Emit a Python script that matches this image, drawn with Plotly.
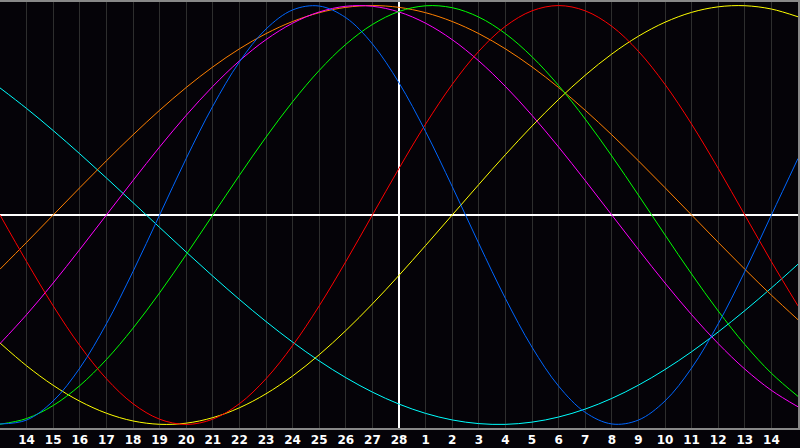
import plotly.graph_objects as go

# Day offsets relative to "today" (day 28)
days = list(range(-15, 16))
tick_days = list(range(-14, 15))
tick_labels = ["14", "15", "16", "17", "18", "19", "20", "21", "22", "23", "24", "25", "26", "27",
               "28", "1", "2", "3", "4", "5", "6", "7", "8", "9", "10", "11", "12", "13", "14"]

# Cycle values, one per day from -15 to +15
blue_vals = [-0.9977, -0.9791, -0.8879, -0.7308, -0.5196, -0.2698, 0.0, 0.2698, 0.5196, 0.7308,
             0.8879, 0.9791, 0.9977, 0.9423, 0.8170, 0.6310, 0.3984, 0.1362, -0.1362, -0.3984,
             -0.6310, -0.8170, -0.9423, -0.9977, -0.9791, -0.8879, -0.7308, -0.5196, -0.2698, 0.0,
             0.2698]
red_vals = [0.0, -0.2225, -0.4339, -0.6235, -0.7818, -0.9010, -0.9749, -1.0, -0.9749, -0.9010,
            -0.7818, -0.6235, -0.4339, -0.2225, 0.0, 0.2225, 0.4339, 0.6235, 0.7818, 0.9010,
            0.9749, 1.0, 0.9749, 0.9010, 0.7818, 0.6235, 0.4339, 0.2225, 0.0, -0.2225,
            -0.4339]
green_vals = [-0.9989, -0.9718, -0.9096, -0.8146, -0.6901, -0.5406, -0.3717, -0.1893, 0.0, 0.1893,
              0.3717, 0.5406, 0.6901, 0.8146, 0.9096, 0.9718, 0.9989, 0.9898, 0.9450, 0.8660,
              0.7557, 0.6182, 0.4582, 0.2817, 0.0951, -0.0951, -0.2817, -0.4582, -0.6182, -0.7557,
              -0.8660]
magenta_vals = [-0.6140, -0.4759, -0.3247, -0.1646, 0.0, 0.1646, 0.3247, 0.4759, 0.6140, 0.7357,
                0.8372, 0.9158, 0.9694, 0.9966, 0.9966, 0.9694, 0.9158, 0.8372, 0.7357, 0.6140,
                0.4759, 0.3247, 0.1646, 0.0, -0.1646, -0.3247, -0.4759, -0.6140, -0.7357, -0.8372,
                -0.9158]
yellow_vals = [-0.6111, -0.7200, -0.8133, -0.8893, -0.9464, -0.9834, -0.9993, -0.9940, -0.9675, -0.9204,
               -0.8536, -0.7687, -0.6672, -0.5519, -0.4245, -0.2881, -0.1456, 0.0, 0.1456, 0.2881,
               0.4245, 0.5519, 0.6672, 0.7687, 0.8536, 0.9204, 0.9675, 0.9940, 0.9993, 0.9834,
               0.9464]
orange_vals = [-0.2588, -0.1305, 0.0, 0.1305, 0.2588, 0.3827, 0.5, 0.6088, 0.7071, 0.7934,
               0.8660, 0.9239, 0.9659, 0.9914, 1.0, 0.9914, 0.9659, 0.9239, 0.8660, 0.7934,
               0.7071, 0.6088, 0.5, 0.3827, 0.2588, 0.1305, 0.0, -0.1305, -0.2588, -0.3827,
               -0.5]
cyan_vals = [0.6068, 0.5086, 0.4031, 0.2920, 0.1769, 0.0593, -0.0592, -0.1769, -0.2920, -0.4031,
             -0.5086, -0.6068, -0.6967, -0.7766, -0.8456, -0.9028, -0.9473, -0.9785, -0.9961, -0.9996,
             -0.9890, -0.9646, -0.9267, -0.8757, -0.8125, -0.7378, -0.6528, -0.5585, -0.4566, -0.3482,
             -0.2348]

series = [
    ("Spiritual", cyan_vals, "#00ffff"),
    ("Awareness", orange_vals, "#ff8000"),
    ("Aesthetic", yellow_vals, "#ffff00"),
    ("Intuitive", magenta_vals, "#ff00ff"),
    ("Intellectual", green_vals, "#00ff00"),
    ("Emotional", red_vals, "#ff0000"),
    ("Physical", blue_vals, "#0066ff"),
]

fig = go.Figure()
for name, vals, color in series:
    fig.add_trace(go.Scatter(x=days, y=vals, mode="lines", name=name,
                             line=dict(color=color, width=1, shape="spline", smoothing=1.0)))

fig.update_layout(
    width=800, height=448,
    margin=dict(l=0, r=0, t=0, b=20),
    paper_bgcolor="#050308", plot_bgcolor="#050308",
    showlegend=False,
    xaxis=dict(range=[-15, 15], tickvals=tick_days, ticktext=tick_labels,
               showgrid=True, gridcolor="#2e2e2e", gridwidth=1,
               zeroline=True, zerolinecolor="#ffffff", zerolinewidth=1.5,
               showline=True, linecolor="#888888", linewidth=2, mirror=True,
               ticks="", tickfont=dict(family="DejaVu Sans", size=12, color="#ffffff", weight="bold")),
    yaxis=dict(range=[-1.017, 1.017], showgrid=False, showticklabels=False,
               zeroline=True, zerolinecolor="#ffffff", zerolinewidth=2,
               showline=True, linecolor="#888888", linewidth=2, mirror=True, ticks=""),
)

fig.write_html("out.html", config={"displayModeBar": False},
               post_script="document.body.style.margin='0';document.body.style.overflow='hidden';")
